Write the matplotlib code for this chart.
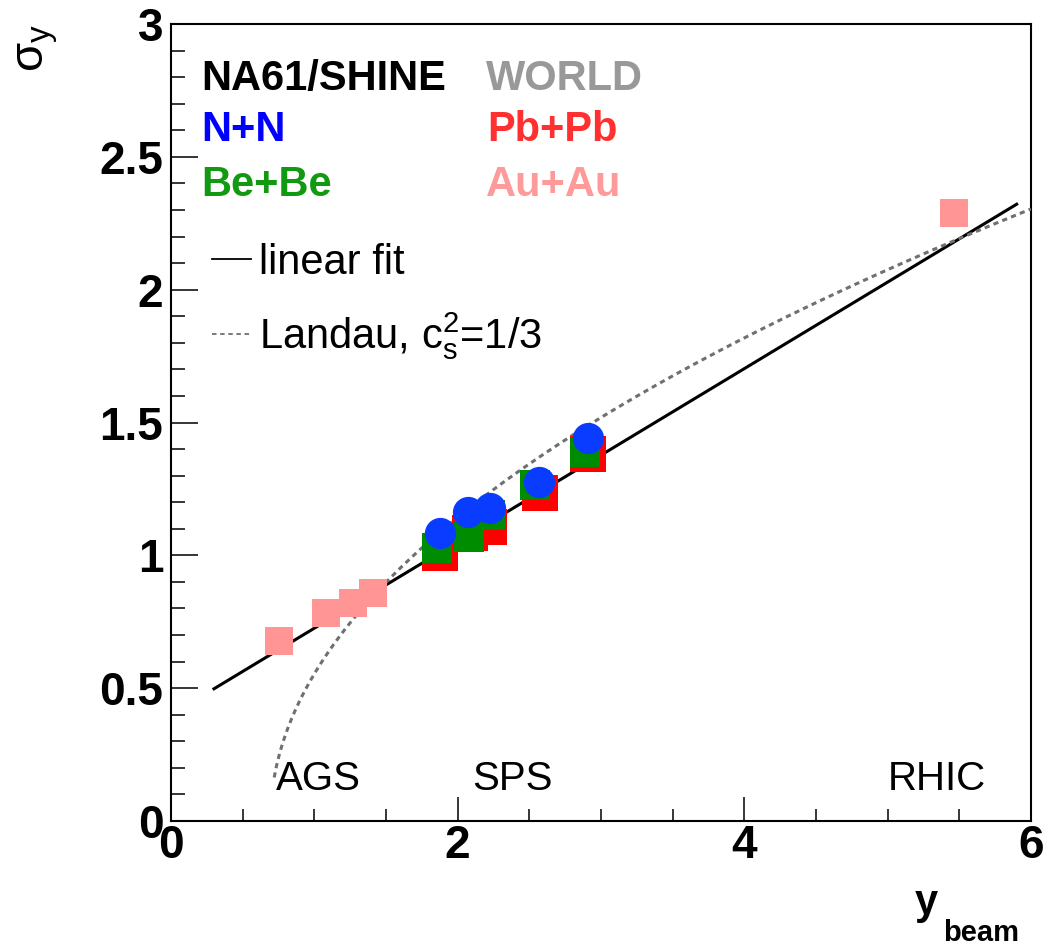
import numpy as np
import matplotlib
matplotlib.use("Agg")
import matplotlib.pyplot as plt
from matplotlib.ticker import MultipleLocator, FuncFormatter
from matplotlib.lines import Line2D

plt.rcParams['font.family'] = ['Liberation Sans', 'DejaVu Sans']
plt.rcParams['mathtext.fontset'] = 'custom'
plt.rcParams['mathtext.rm'] = 'Liberation Sans'
plt.rcParams['mathtext.it'] = 'Liberation Sans'
plt.rcParams['mathtext.bf'] = 'Liberation Sans:bold'

# ---------------- data ----------------
auau_x = [0.75, 1.08, 1.27, 1.41, 5.46]
auau_y = [0.678, 0.782, 0.819, 0.857, 2.287]

pbpb_x = [1.880, 2.083, 2.222, 2.571, 2.909]
pbpb_y = [1.010, 1.085, 1.107, 1.235, 1.383]

bebe_x = [1.854, 2.081, 2.225, 2.540, 2.886]
bebe_y = [1.029, 1.070, 1.150, 1.264, 1.388]

nn_x = [1.877, 2.074, 2.226, 2.570, 2.912]
nn_y = [1.083, 1.164, 1.177, 1.275, 1.440]

# linear fit parameters  sigma = a + b * y_beam
fit_intercept = 0.400
fit_slope = 0.3257
fit_range = [0.30, 5.90]

# Landau hydrodynamics with c_s^2 = 1/3 : sigma^2 = 8/3 * cs2/(1-cs2^2) * (y_beam - ln2)
landau_cs2 = 1.0 / 3.0
landau_range = [0.72, 6.0]

x_ticks = [0, 2, 4, 6]
y_ticks = [0, 0.5, 1, 1.5, 2, 2.5, 3]

accel_labels = ["AGS", "SPS", "RHIC"]
accel_x = [0.733, 2.10, 5.00]
accel_y = 0.117

# ---------------- figure ----------------
W, H = 1043, 948
fig = plt.figure(figsize=(W / 100, H / 100), dpi=100)
ax = fig.add_axes([171 / W, 1 - 821 / H, (1031 - 171) / W, (821 - 24) / H])
ax.set_xlim(0, 6)
ax.set_ylim(0, 3)

# fit line
xf = np.linspace(fit_range[0], fit_range[1], 2)
ax.plot(xf, fit_intercept + fit_slope * xf, color='black', lw=2.2, zorder=3)

# Landau curve
xl = np.linspace(landau_range[0], landau_range[1], 400)
coef = 8.0 / 3.0 * landau_cs2 / (1 - landau_cs2 ** 2)
yl = np.sqrt(coef * (xl - np.log(2)))
ax.plot(xl, yl, color='#707070', lw=2.2, dashes=(1.7, 1.4), zorder=3)

# markers
ax.plot(auau_x, auau_y, 's', color='#ff9595', ms=19.5, mew=0, zorder=4)
ax.plot(pbpb_x, pbpb_y, 's', color='#ff0000', ms=25.5, mew=0, zorder=5)
ax.plot(bebe_x, bebe_y, 's', color='#008c00', ms=21.8, mew=0, zorder=6)
ax.plot(nn_x, nn_y, 'o', color='#0a3cff', ms=22.5, mew=0, zorder=7)

# texts: experiment/system labels
ax.text(0.209, 2.751, "NA61/SHINE", fontsize=30, fontweight='bold', color='black', va='baseline')
ax.text(0.209, 2.560, "N+N", fontsize=30, fontweight='bold', color='#0000ff', va='baseline')
ax.text(0.209, 2.353, "Be+Be", fontsize=30, fontweight='bold', color='#119911', va='baseline')
ax.text(2.198, 2.751, "WORLD", fontsize=30, fontweight='bold', color='#999999', va='baseline')
ax.text(2.205, 2.560, "Pb+Pb", fontsize=30, fontweight='bold', color='#ff3030', va='baseline')
ax.text(2.198, 2.353, "Au+Au", fontsize=30, fontweight='bold', color='#ff9a9a', va='baseline')

for lab, xx in zip(accel_labels, accel_x):
    ax.text(xx, accel_y, lab, fontsize=29, color='black', va='baseline')

# legend
handles = [Line2D([], [], color='black', lw=1.3),
           Line2D([], [], color='#707070', lw=1.3, dashes=(2.5, 2.0))]
labels = ["linear fit", r"Landau, $\mathregular{c_s^2}$=1/3"]
leg = ax.legend(handles, labels, loc='upper left', bbox_to_anchor=(212 / W, 1 - 243 / H),
                bbox_transform=fig.transFigure, frameon=False, fontsize=30,
                handlelength=0.93, handletextpad=0.2, labelspacing=0.65,
                borderpad=0, borderaxespad=0)

# ticks
ax.xaxis.set_major_locator(MultipleLocator(2))
ax.xaxis.set_minor_locator(MultipleLocator(0.5))
ax.yaxis.set_major_locator(MultipleLocator(0.5))
ax.yaxis.set_minor_locator(MultipleLocator(0.1))
ax.set_xticks(x_ticks)
ax.set_yticks(y_ticks)
fmt = FuncFormatter(lambda v, p: "%g" % v)
ax.xaxis.set_major_formatter(fmt)
ax.yaxis.set_major_formatter(fmt)
ax.tick_params(axis='both', which='both', direction='in', top=False, right=False, width=1.1)
ax.tick_params(axis='x', which='major', length=17, pad=2)
ax.tick_params(axis='x', which='minor', length=8.6)
ax.tick_params(axis='y', which='major', length=19.4, pad=5.5)
ax.tick_params(axis='y', which='minor', length=10)
for lab in ax.get_xticklabels() + ax.get_yticklabels():
    lab.set_fontsize(33)
    lab.set_fontweight('bold')
for s in ax.spines.values():
    s.set_linewidth(1.5)

# axis titles
fig.text(915 / W, 1 - 914 / H, "y", fontsize=30, fontweight='bold', va='baseline', ha='left')
fig.text(943 / W, 1 - 941 / H, "beam", fontsize=21, fontweight='bold', va='baseline', ha='left')
fig.text(38 / W, 1 - 24 / H, r"$\sigma_\mathregular{y}$", fontsize=34, rotation=90,
         ha='center', va='top')

fig.savefig("out.png", dpi=100)
